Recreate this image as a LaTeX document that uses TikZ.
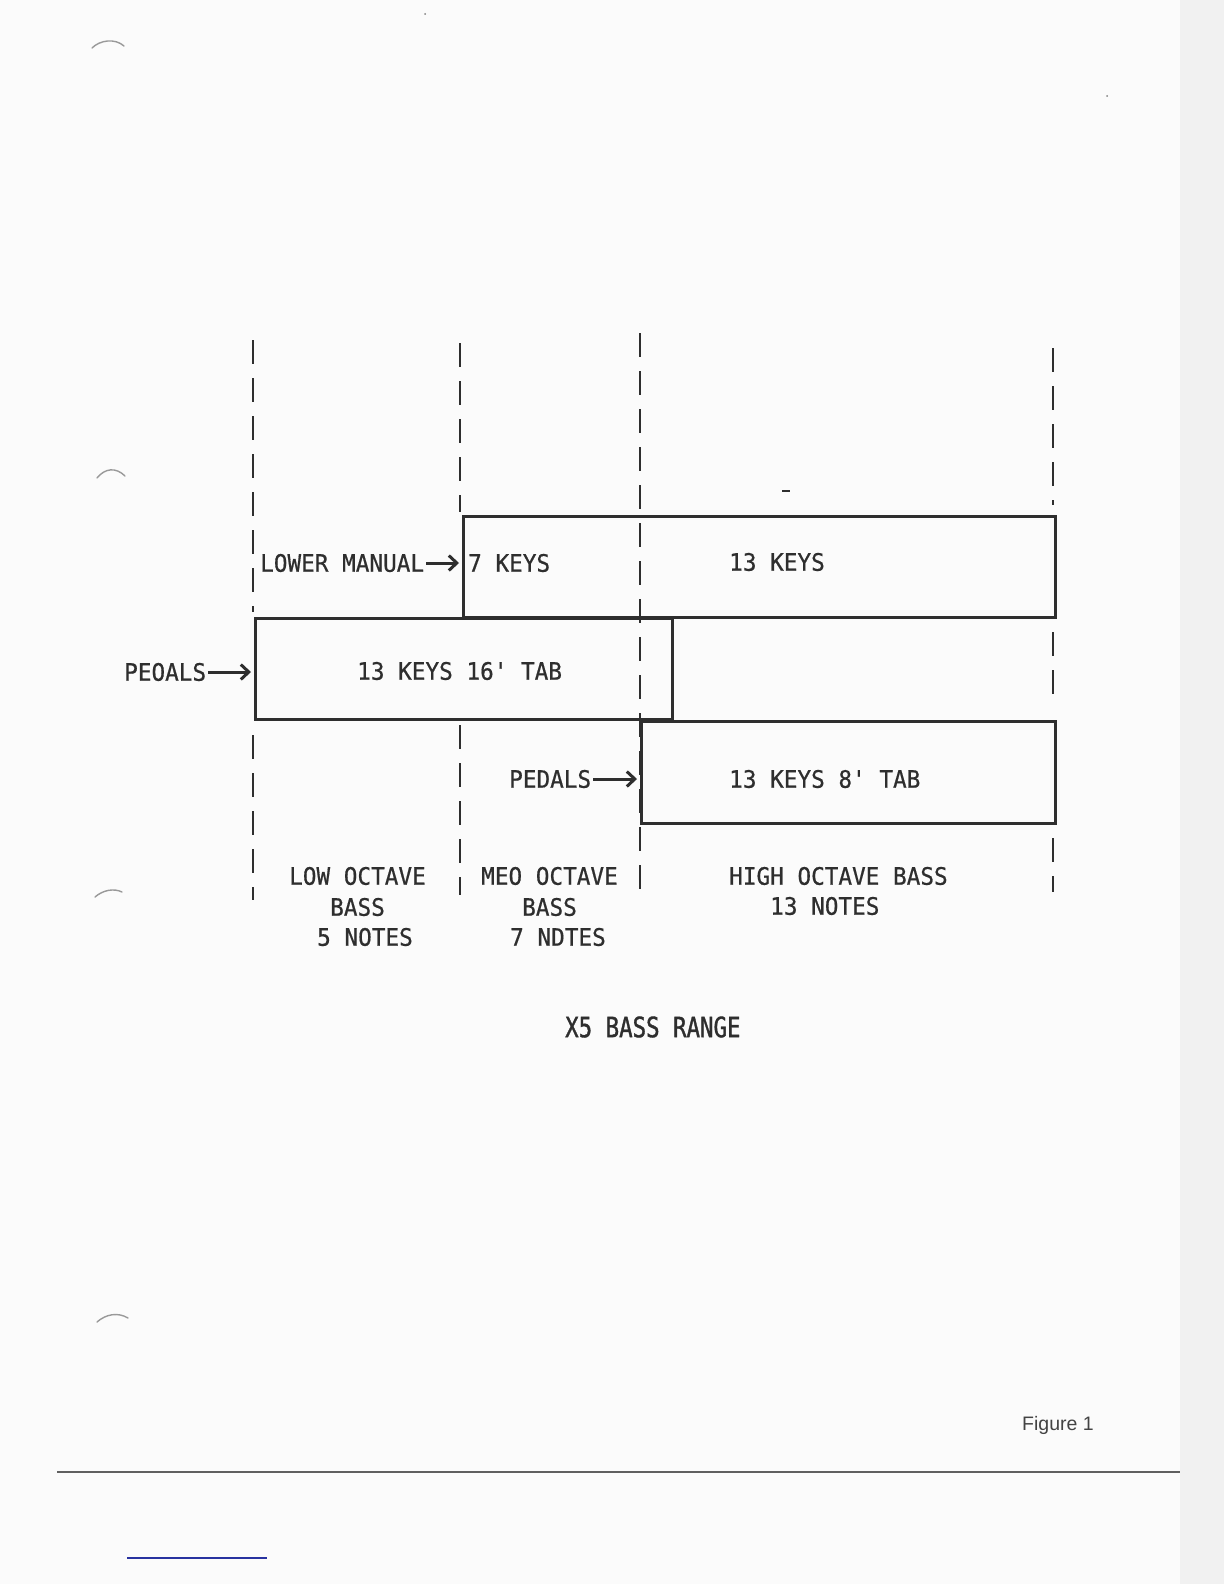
\documentclass[tikz,border=0pt]{standalone}
\usepackage{fontspec}
\usetikzlibrary{arrows.meta}
\newfontfamily\typew[FakeStretch=0.945,FakeBold=0.6,Ligatures=TeXOff]{DejaVu Sans Mono}
\newfontfamily\titlef[FakeStretch=0.8,FakeBold=1.2,Ligatures=TeXOff]{DejaVu Sans Mono}
\newfontfamily\capf{Liberation Sans}
\definecolor{inkc}{HTML}{2E2E2E}
\definecolor{pagec}{HTML}{FBFBFB}
\definecolor{edgec}{HTML}{F1F1F1}
\definecolor{bluec}{RGB}{40,50,160}
\begin{document}
\begin{tikzpicture}[x=1pt,y=-1pt,
  keybox/.style={rectangle, draw=inkc, line width=2.6pt, inner sep=0pt, anchor=north west},
  dashv/.style={draw=inkc, line width=2.8pt, dash pattern=on 24pt off 14pt},
  typ/.style={font=\typew\fontsize{24}{24}\selectfont, text=inkc, inner sep=0pt, anchor=west},
  ttl/.style={font=\titlef\fontsize{28}{28}\selectfont, text=inkc, inner sep=0pt, anchor=west},
  arr/.style={draw=inkc, line width=3pt, -{Straight Barb[length=8pt,width=15pt]}, shorten <=2pt, shorten >=3pt},
  artifact/.style={draw=gray!80, line width=1.4pt, line cap=round}]
\useasboundingbox (0,0) rectangle (1224,1584);
\fill[pagec] (0,0) rectangle (1224,1584);
\fill[edgec] (1180,0) rectangle (1224,1584);

% dashed vertical guide lines
\draw[dashv] (253,340) -- (253,612);
\draw[dashv] (253,735) -- (253,900);
\draw[dashv] (460,343) -- (460,512);
\draw[dashv] (460,725) -- (460,895);
\draw[dashv] (640,333) -- (640,895);
\draw[dashv] (1053,348) -- (1053,505);
\draw[dashv] (1053,632) -- (1053,708);
\draw[dashv] (1053,838) -- (1053,892);

% boxes
\node[keybox, minimum width=592pt, minimum height=101pt] (lm) at (462,515) {};
\node[keybox, minimum width=417pt, minimum height=101pt] (p16) at (254,617) {};
\node[keybox, minimum width=414pt, minimum height=102pt] (p8) at (640,720) {};

% box texts
\node[typ] (k7) at (468,563) {7 KEYS};
\node[typ] (k13) at (729,562) {13 KEYS};
\node[typ] (k16) at (357,671) {13 KEYS 16' TAB};
\node[typ] (k8) at (729,779) {13 KEYS 8' TAB};

% side labels and arrows
\node[typ] (lml) at (260,563) {LOWER MANUAL};
\node[typ] (pel) at (124,672) {PEOALS};
\node[typ] (pdl) at (509,779) {PEDALS};
\draw[arr] (lml.east) -- (lml.east -| lm.west);
\draw[arr] (pel.east) -- (pel.east -| p16.west);
\draw[arr] (pdl.east) -- (pdl.east -| p8.west);

% octave labels
\node[typ] (lo1) at (289,876) {LOW OCTAVE};
\node[typ] (lo2) at (330,907) {BASS};
\node[typ] (lo3) at (317,937) {5 NOTES};
\node[typ] (mo1) at (481,876) {MEO OCTAVE};
\node[typ] (mo2) at (522,907) {BASS};
\node[typ] (mo3) at (510,937) {7 NDTES};
\node[typ] (ho1) at (729,876) {HIGH OCTAVE BASS};
\node[typ] (ho2) at (770,906) {13 NOTES};

% title and caption
\node[ttl] (title) at (565,1027) {X5 BASS RANGE};
\node[font=\capf\fontsize{19.5}{20}\selectfont, text=inkc!90, inner sep=0pt, anchor=west] (fig) at (1022,1425) {Figure 1};

% page rules
\draw[draw=gray!75!black, line width=1.8pt] (57,1472) -- (1180,1472);
\draw[draw=bluec, line width=1.5pt] (127,1558) -- (267,1558);

% scan artifacts
\draw[artifact] (92,48) .. controls (100,40) and (115,38) .. (124,46);
\draw[artifact] (97,478) .. controls (105,468) and (116,467) .. (125,476);
\draw[artifact] (95,897) .. controls (103,890) and (114,888) .. (122,892);
\draw[artifact] (97,1322) .. controls (106,1314) and (118,1312) .. (128,1318);
\draw[draw=inkc, line width=2pt] (782,491) -- (790,491);
\fill[gray] (425,14) circle (1pt);
\fill[gray] (1107,96) circle (1pt);
\end{tikzpicture}
\end{document}
